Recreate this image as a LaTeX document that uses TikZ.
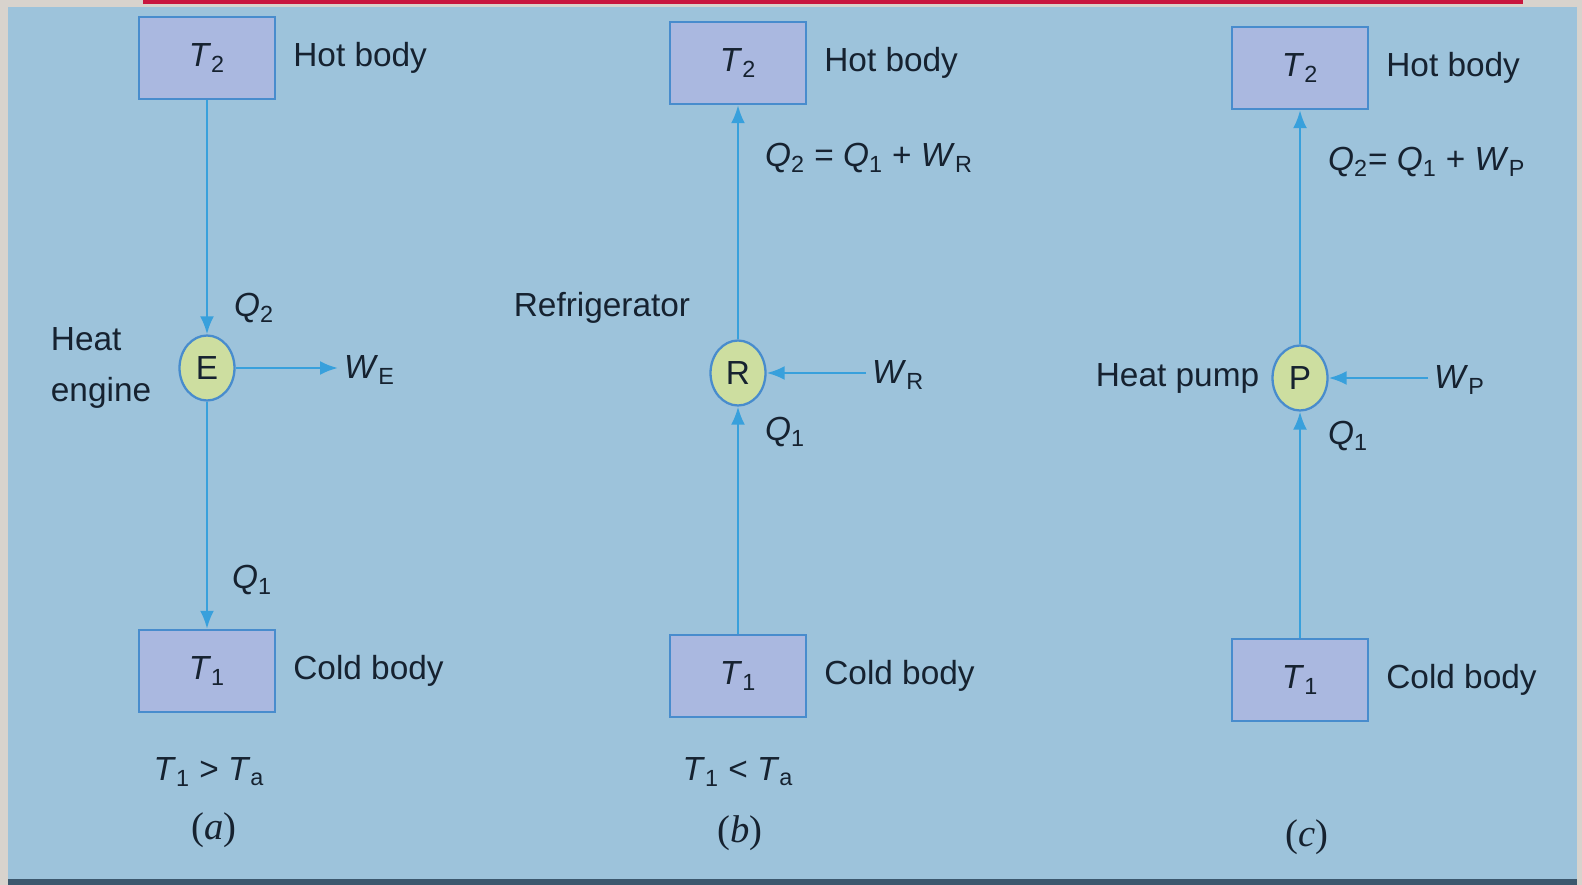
\documentclass[tikz,border=0pt]{standalone}
\usepackage{fontspec}
\setmainfont{Liberation Sans}
\newfontfamily\capfont{Liberation Serif}
\usepackage{tikz}
\usetikzlibrary{arrows.meta, positioning, shapes.geometric}
\definecolor{panelblue}{RGB}{157,195,219}
\definecolor{framegray}{RGB}{216,211,205}
\definecolor{topred}{RGB}{200,22,62}
\definecolor{edgenavy}{RGB}{60,88,110}
\definecolor{flowcyan}{RGB}{56,160,220}
\definecolor{boxlilac}{RGB}{170,184,224}
\definecolor{boxedge}{RGB}{72,140,205}
\definecolor{discgreen}{RGB}{205,222,160}
\definecolor{inknavy}{RGB}{22,34,48}
\newcommand{\qsym}[2]{\textit{#1}\textsubscript{#2}}

\begin{document}
\begin{tikzpicture}[
		x=0.02cm, y=-0.02cm,
		every node/.style={text=inknavy, font=\fontsize{19}{22}\selectfont},
		body/.style={draw=boxedge, line width=1.3pt, fill=boxlilac, minimum width=2.72cm, minimum height=1.64cm},
		device/.style={ellipse, draw=boxedge, line width=1.3pt, fill=discgreen, minimum width=1.1cm, minimum height=1.3cm, inner sep=0pt},
		flow/.style={-{Latex[length=3.6mm, width=2.8mm]}, flowcyan, line width=1.5pt},
		caption/.style={font=\capfont\fontsize{22}{24}\selectfont}
	]
	% frame
	\fill[framegray] (0,0) rectangle (1582,885);
	\fill[panelblue] (8,7) rectangle (1577,880);
	\fill[edgenavy] (8,879) rectangle (1577,885);
	\fill[topred] (143,0) rectangle (1523,4);

	% (a) heat engine
	\node[body] (hotA) at (207,58) {\qsym{T}{2}};
	\node[right=0.22cm of hotA] (hotAlbl) {Hot body};
	\node[device] (engE) at (207,368) {E};
	\node[body] (coldA) at (207,671) {\qsym{T}{1}};
	\node[right=0.22cm of coldA] (coldAlbl) {Cold body};
	\node[align=left, left=0.42cm of engE, font=\fontsize{19}{29}\selectfont] (engLbl) {Heat\\engine};
	\node (q2A) at (254,308) {\qsym{Q}{2}};
	\node (q1A) at (252,580) {\qsym{Q}{1}};
	\node[anchor=west] (wE) at (338,370) {\qsym{W}{E}};
	\node (condA) at (209,772) {\qsym{T}{1} > \qsym{T}{a}};
	\node[caption] (capA) at (214,830) {(\textit{a})};
	\draw[flow] (hotA) -- (engE);
	\draw[flow] (engE) -- (coldA);
	\draw[flow] (engE) -- (wE.west |- engE);

	% (b) refrigerator
	\node[body] (hotB) at (738,63) {\qsym{T}{2}};
	\node[right=0.22cm of hotB] (hotBlbl) {Hot body};
	\node[device] (refR) at (738,373) {R};
	\node[body] (coldB) at (738,676) {\qsym{T}{1}};
	\node[right=0.22cm of coldB] (coldBlbl) {Cold body};
	\node (refLbl) at (602,308) {Refrigerator};
	\node[anchor=west] (q2B) at (759,158) {\qsym{Q}{2} = \qsym{Q}{1} + \qsym{W}{R}};
	\node (q1B) at (785,432) {\qsym{Q}{1}};
	\node[anchor=west] (wR) at (866,375) {\qsym{W}{R}};
	\node (condB) at (738,772) {\qsym{T}{1} < \qsym{T}{a}};
	\node[caption] (capB) at (740,833) {(\textit{b})};
	\draw[flow] (coldB) -- (refR);
	\draw[flow] (refR) -- (hotB);
	\draw[flow] (wR.west |- refR) -- (refR);

	% (c) heat pump
	\node[body] (hotC) at (1300,68) {\qsym{T}{2}};
	\node[right=0.22cm of hotC] (hotClbl) {Hot body};
	\node[device] (pumpP) at (1300,378) {P};
	\node[body] (coldC) at (1300,680) {\qsym{T}{1}};
	\node[right=0.22cm of coldC] (coldClbl) {Cold body};
	\node[left=0.12cm of pumpP] (pumpLbl) {Heat pump};
	\node[anchor=west] (q2C) at (1322,162) {\qsym{Q}{2}= \qsym{Q}{1} + \qsym{W}{P}};
	\node (q1C) at (1348,436) {\qsym{Q}{1}};
	\node[anchor=west] (wP) at (1428,380) {\qsym{W}{P}};
	\node[caption] (capC) at (1307,837) {(\textit{c})};
	\draw[flow] (coldC) -- (pumpP);
	\draw[flow] (pumpP) -- (hotC);
	\draw[flow] (wP.west |- pumpP) -- (pumpP);
\end{tikzpicture}
\end{document}
